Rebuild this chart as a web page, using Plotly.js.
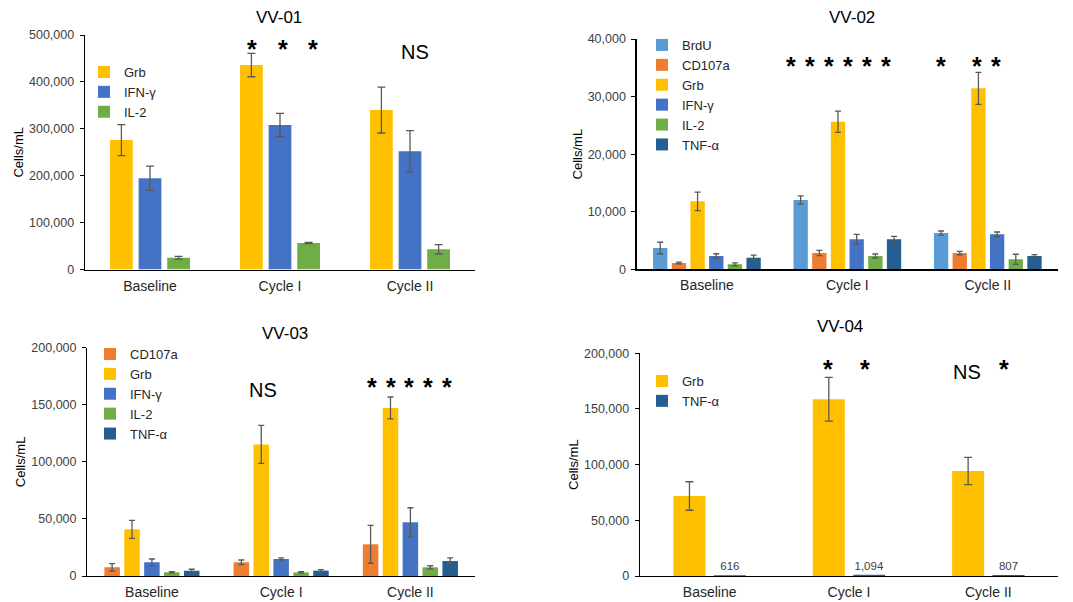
<!DOCTYPE html>
<html><head><meta charset="utf-8">
<script src="https://cdn.plot.ly/plotly-3.0.1.min.js"></script>
<style>html,body{margin:0;padding:0;background:#fff}#chart{width:1073px;height:602px}</style>
</head><body><div id="chart"></div>
<script>
const categories = ['Baseline', 'Cycle I', 'Cycle II'];

// VV-01
const vv01_grb = [276000, 436000, 340000];
const vv01_grb_err = [33000, 25000, 49000];
const vv01_ifn = [194500, 308000, 252000];
const vv01_ifn_err = [26000, 25000, 44000];
const vv01_il2 = [25000, 56500, 43000];
const vv01_il2_err = [3000, 1500, 10000];

// VV-02
const vv02_brdu = [3700, 12040, 6300];
const vv02_brdu_err = [1000, 700, 350];
const vv02_cd107a = [1100, 2830, 2830];
const vv02_cd107a_err = [150, 450, 300];
const vv02_grb = [11800, 25640, 31440];
const vv02_grb_err = [1600, 1850, 2780];
const vv02_ifn = [2300, 5210, 6080];
const vv02_ifn_err = [400, 870, 400];
const vv02_il2 = [870, 2310, 1740];
const vv02_il2_err = [250, 350, 870];
const vv02_tnf = [2020, 5210, 2310];
const vv02_tnf_err = [450, 520, 250];

// VV-03
const vv03_cd107a = [7600, 12000, 27750];
const vv03_cd107a_err = [3200, 2000, 16600];
const vv03_grb = [40900, 115300, 147200];
const vv03_grb_err = [7900, 16700, 9600];
const vv03_ifn = [12000, 14900, 47000];
const vv03_ifn_err = [2900, 1000, 12800];
const vv03_il2 = [3200, 3200, 7600];
const vv03_il2_err = [700, 700, 1400];
const vv03_tnf = [4700, 4700, 13100];
const vv03_tnf_err = [1200, 800, 2700];

// VV-04
const vv04_grb = [71850, 158700, 94300];
const vv04_grb_err = [12800, 19700, 12300];
const vv04_tnf = [616, 1094, 807];

const W = 1073, H = 602;
const px = p => p / W;
const py = p => 1 - p / H;

const COL = {
  BrdU: '#5B9BD5', CD107a: '#ED7D31', Grb: '#FFC000',
  'IFN-γ': '#4472C4', 'IL-2': '#70AD47', 'TNF-α': '#255E91'
};
const FONT = 'Liberation Sans, Arial, sans-serif';

function panel(series, ax, legendId, w, pitch, capw) {
  const n = series.length;
  return series.map((s, i) => {
    const center = (i - (n - 1) / 2) * pitch;
    const t = {
      type: 'bar', name: s.name, x: categories, y: s.y,
      xaxis: 'x' + ax, yaxis: 'y' + ax, legend: legendId,
      width: w, offset: center - w / 2,
      marker: { color: COL[s.name], line: { width: 0 } },
      hoverinfo: 'skip'
    };
    if (s.err) {
      t.error_y = { type: 'data', array: s.err, visible: true, color: '#595959', thickness: 1.3, width: capw };
    }
    if (s.labels) {
      t.text = s.y.map(v => v.toLocaleString('en-US'));
      t.textposition = 'outside';
      t.constraintext = 'none';
      t.cliponaxis = false;
      t.textfont = { family: FONT, size: 11.5, color: '#404040' };
    }
    return t;
  });
}

const data = [].concat(
  panel([
    { name: 'Grb', y: vv01_grb, err: vv01_grb_err },
    { name: 'IFN-γ', y: vv01_ifn, err: vv01_ifn_err },
    { name: 'IL-2', y: vv01_il2, err: vv01_il2_err }
  ], '', 'legend', 0.175, 0.22, 4),
  panel([
    { name: 'BrdU', y: vv02_brdu, err: vv02_brdu_err },
    { name: 'CD107a', y: vv02_cd107a, err: vv02_cd107a_err },
    { name: 'Grb', y: vv02_grb, err: vv02_grb_err },
    { name: 'IFN-γ', y: vv02_ifn, err: vv02_ifn_err },
    { name: 'IL-2', y: vv02_il2, err: vv02_il2_err },
    { name: 'TNF-α', y: vv02_tnf, err: vv02_tnf_err }
  ], '2', 'legend2', 0.102, 0.133, 3),
  panel([
    { name: 'CD107a', y: vv03_cd107a, err: vv03_cd107a_err },
    { name: 'Grb', y: vv03_grb, err: vv03_grb_err },
    { name: 'IFN-γ', y: vv03_ifn, err: vv03_ifn_err },
    { name: 'IL-2', y: vv03_il2, err: vv03_il2_err },
    { name: 'TNF-α', y: vv03_tnf, err: vv03_tnf_err }
  ], '3', 'legend3', 0.12, 0.154, 3),
  panel([
    { name: 'Grb', y: vv04_grb, err: vv04_grb_err },
    { name: 'TNF-α', y: vv04_tnf, labels: true }
  ], '4', 'legend4', 0.23, 0.29, 4)
);

function xax(dom, anchor) {
  return {
    domain: dom, anchor: anchor, type: 'category', range: [-0.5, 2.5],
    showline: true, linecolor: '#000', linewidth: 1.3, ticks: '', showgrid: false, zeroline: false,
    tickfont: { family: FONT, size: 14, color: '#262626' }, ticklabelstandoff: 3, fixedrange: true
  };
}
function yax(dom, anchor, max, dtick) {
  return {
    domain: dom, anchor: anchor, range: [0, max], dtick: dtick, tickformat: ',d',
    showline: true, linecolor: '#000', linewidth: 1.3, ticks: 'outside', ticklen: 4, tickcolor: '#000',
    showgrid: false, zeroline: false,
    tickfont: { family: FONT, size: 12.5, color: '#404040' }, ticklabelstandoff: 3,
    title: { text: 'Cells/mL', font: { family: FONT, size: 13, color: '#000' }, standoff: 2 },
    fixedrange: true
  };
}

function leg(xp, yp) {
  return {
    x: px(xp), y: py(yp), xanchor: 'left', yanchor: 'top', bgcolor: 'rgba(0,0,0,0)',
    font: { family: FONT, size: 13, color: '#262626' }, itemclick: false, itemdoubleclick: false,
    tracegroupgap: 0
  };
}

const annotations = [];
function title(text, xp, yp) {
  annotations.push({ text: text, xref: 'paper', yref: 'paper', x: px(xp), y: py(yp),
    xanchor: 'center', yanchor: 'middle', showarrow: false, font: { family: FONT, size: 17, color: '#000' } });
}
function mark(text, xaxis, cat, shift, yp, size, bold) {
  annotations.push({ text: text, xref: xaxis, yref: 'paper', x: cat, xshift: shift, y: py(yp),
    xanchor: 'center', yanchor: 'middle', showarrow: false,
    font: { family: FONT, size: size, color: '#000', weight: bold ? 'bold' : 'normal' } });
}
title('VV-01', 279, 18);
title('VV-02', 852, 18);
title('VV-03', 285, 333);
title('VV-04', 840, 327);

const STAR = 25, STAR_Y = 3;
[-28, 3, 33].forEach(s => mark('*', 'x', 'Cycle I', s, 46 + STAR_Y, STAR, true));
mark('NS', 'x', 'Cycle II', 5, 52, 20);
[-56.3, -37, -18, 1, 20, 38.7].forEach(s => mark('*', 'x2', 'Cycle I', s, 62.7 + STAR_Y, STAR, true));
[-47, -10.7, 8.6].forEach(s => mark('*', 'x2', 'Cycle II', s, 62.7 + STAR_Y, STAR, true));
[-38.8, -19.8, -1.2, 17.5, 36.2].forEach(s => mark('*', 'x3', 'Cycle II', s, 384.3 + STAR_Y, STAR, true));
mark('NS', 'x3', 'Cycle I', -18.5, 390, 20);
[-20.7, 16].forEach(s => mark('*', 'x4', 'Cycle I', s, 366 + STAR_Y, STAR, true));
mark('NS', 'x4', 'Cycle II', -21.3, 372, 20);
mark('*', 'x4', 'Cycle II', 15.3, 366 + STAR_Y, STAR, true);

const layout = {
  width: W, height: H, margin: { l: 0, r: 0, t: 0, b: 0 },
  paper_bgcolor: '#fff', plot_bgcolor: 'rgba(0,0,0,0)',
  showlegend: true, barmode: 'group',
  xaxis: xax([px(85), px(475)], 'y'),
  yaxis: yax([py(269.5), py(35)], 'x', 500000, 100000),
  xaxis2: xax([px(636.7), px(1058)], 'y2'),
  yaxis2: yax([py(269.3), py(39)], 'x2', 40000, 10000),
  xaxis3: xax([px(87.3), px(475)], 'y3'),
  yaxis3: yax([py(576), py(347.7)], 'x3', 200000, 50000),
  xaxis4: xax([px(640), px(1058)], 'y4'),
  yaxis4: yax([py(576), py(353.3)], 'x4', 200000, 50000),
  legend: leg(84, 57),
  legend2: leg(642, 30),
  legend3: leg(90, 339),
  legend4: leg(642, 366),
  annotations: annotations
};

Plotly.newPlot('chart', data, layout, { staticPlot: true, displayModeBar: false });
</script>
</body></html>
